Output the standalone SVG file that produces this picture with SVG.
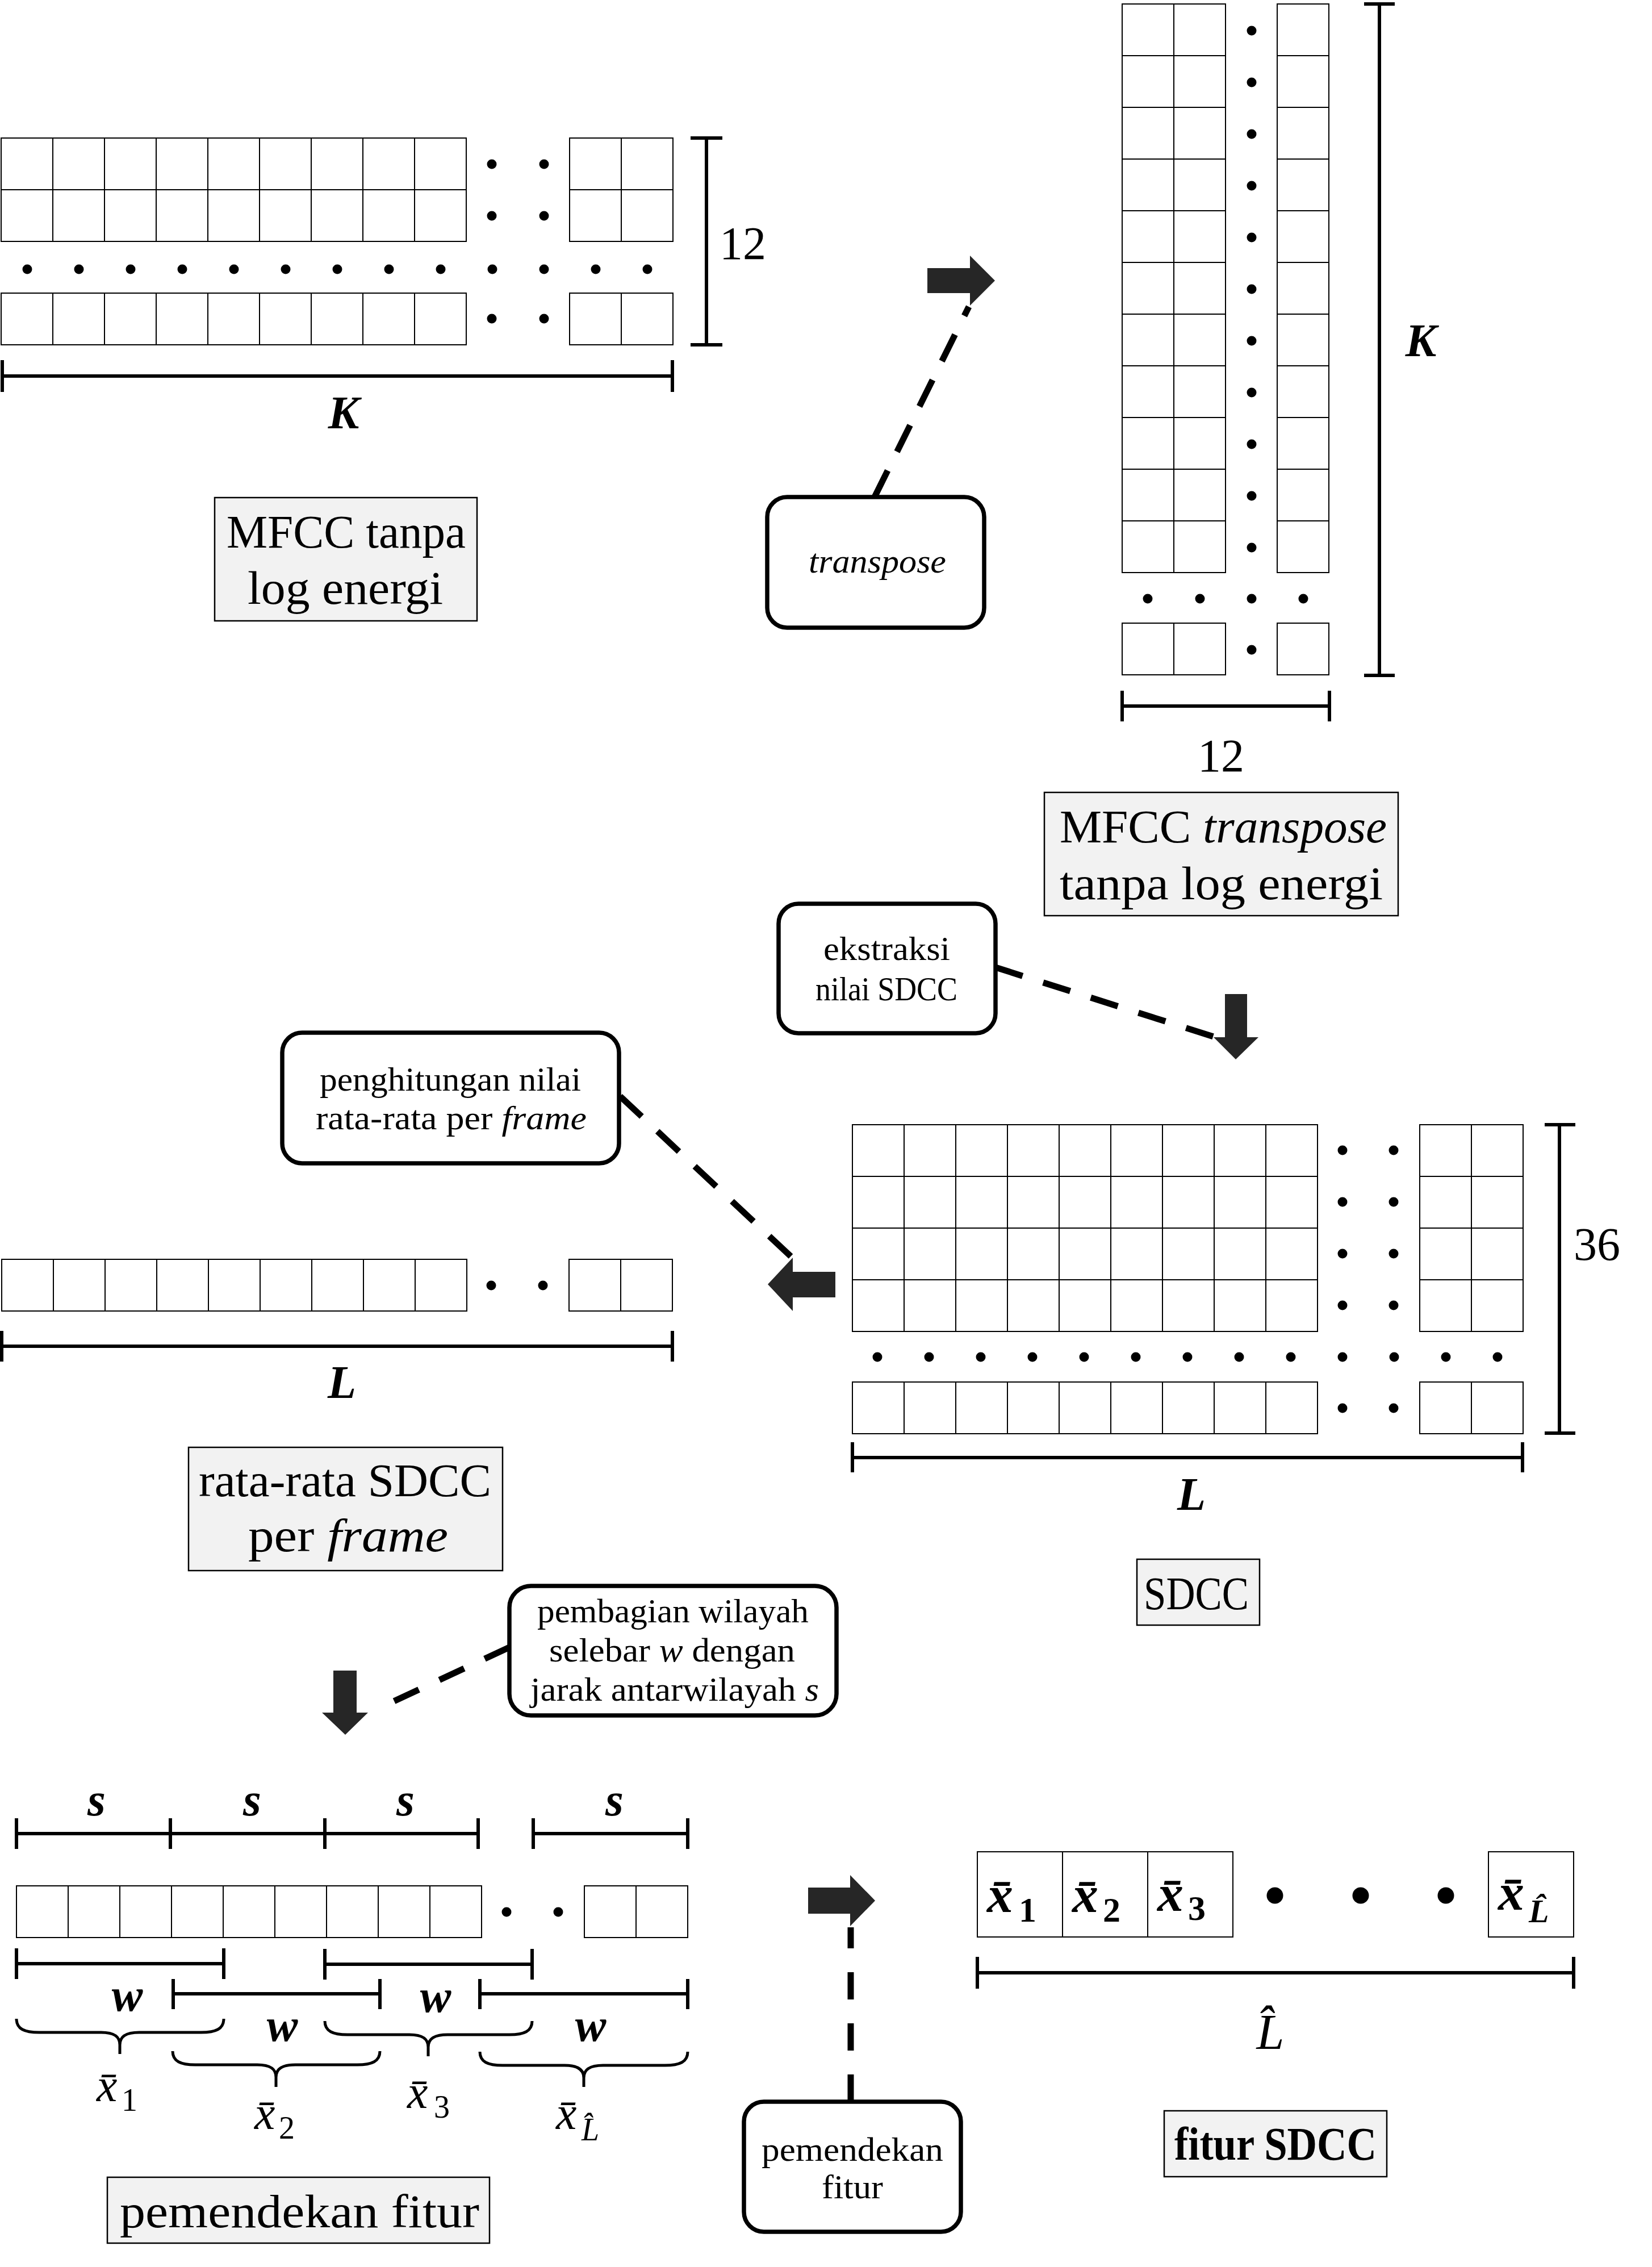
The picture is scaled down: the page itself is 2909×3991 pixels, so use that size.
<svg xmlns="http://www.w3.org/2000/svg" width="2909" height="3991" viewBox="0 0 2909 3991">
<style>
text{font-family:'Liberation Serif',serif;fill:#000}
.big{font-size:82px}
.sm{font-size:60px}
.m{font-size:82px;font-weight:bold;font-style:italic}
.it{font-style:italic}
.cell{fill:#fff;stroke:#000;stroke-width:2}
.br{stroke:#000;stroke-width:6;fill:none}
.brace{stroke:#000;stroke-width:5;fill:none}
.lbl{fill:#f2f2f2;stroke:#000;stroke-width:2.5}
.call{fill:#fff;stroke:#000;stroke-width:7.5}
.dash{stroke:#000;stroke-width:11;fill:none}
.arr{fill:#262626}
.dot{fill:#000}
</style>
<defs>
<path id="r9" class="cell" d="M0 0H819V91H0Z M91 0V91 M182 0V91 M273 0V91 M364 0V91 M455 0V91 M546 0V91 M637 0V91 M728 0V91"/>
<path id="r2" class="cell" d="M0 0H182V91H0Z M91 0V91"/>
<path id="r1" class="cell" d="M0 0H91V91H0Z"/>
</defs>
<rect width="2909" height="3991" fill="#fff"/>

<g id="mfcc-matrix">
<use href="#r9" x="2" y="243"/><use href="#r9" x="2" y="334"/><use href="#r9" x="2" y="516"/>
<use href="#r2" x="1003" y="243"/><use href="#r2" x="1003" y="334"/><use href="#r2" x="1003" y="516"/>
<g class="dot">
<circle cx="866" cy="289" r="8.5"/><circle cx="958" cy="289" r="8.5"/>
<circle cx="866" cy="380" r="8.5"/><circle cx="958" cy="380" r="8.5"/>
<circle cx="866" cy="561" r="8.5"/><circle cx="958" cy="561" r="8.5"/>
<circle cx="48" cy="474" r="8.5"/><circle cx="139" cy="474" r="8.5"/><circle cx="230" cy="474" r="8.5"/><circle cx="321" cy="474" r="8.5"/><circle cx="412" cy="474" r="8.5"/><circle cx="503" cy="474" r="8.5"/><circle cx="594" cy="474" r="8.5"/><circle cx="685" cy="474" r="8.5"/><circle cx="776" cy="474" r="8.5"/><circle cx="867" cy="474" r="8.5"/><circle cx="958" cy="474" r="8.5"/><circle cx="1049" cy="474" r="8.5"/><circle cx="1140" cy="474" r="8.5"/>
</g>
<path class="br" d="M1244 243V607 M1216 243H1272 M1216 607H1272"/>
<text class="big" x="1267" y="456">12</text>
<path class="br" d="M4 662H1184 M4 634V690 M1184 634V690"/>
<text class="m" x="605" y="754" text-anchor="middle">K</text>
</g>

<g id="label-mfcc">
<rect class="lbl" x="378" y="876" width="462" height="217"/>
<text class="big" x="399" y="964" textLength="421" lengthAdjust="spacingAndGlyphs">MFCC tanpa</text>
<text class="big" x="436" y="1063" textLength="344" lengthAdjust="spacingAndGlyphs">log energi</text>
</g>

<g id="mfcc-transpose-matrix">
<use href="#r2" x="1976" y="7"/><use href="#r2" x="1976" y="98"/><use href="#r2" x="1976" y="189"/><use href="#r2" x="1976" y="280"/><use href="#r2" x="1976" y="371"/><use href="#r2" x="1976" y="462"/><use href="#r2" x="1976" y="553"/><use href="#r2" x="1976" y="644"/><use href="#r2" x="1976" y="735"/><use href="#r2" x="1976" y="826"/><use href="#r2" x="1976" y="917"/><use href="#r2" x="1976" y="1097"/>
<use href="#r1" x="2249" y="7"/><use href="#r1" x="2249" y="98"/><use href="#r1" x="2249" y="189"/><use href="#r1" x="2249" y="280"/><use href="#r1" x="2249" y="371"/><use href="#r1" x="2249" y="462"/><use href="#r1" x="2249" y="553"/><use href="#r1" x="2249" y="644"/><use href="#r1" x="2249" y="735"/><use href="#r1" x="2249" y="826"/><use href="#r1" x="2249" y="917"/><use href="#r1" x="2249" y="1097"/>
<g class="dot">
<circle cx="2204" cy="54" r="8.5"/><circle cx="2204" cy="145" r="8.5"/><circle cx="2204" cy="236" r="8.5"/><circle cx="2204" cy="327" r="8.5"/><circle cx="2204" cy="418" r="8.5"/><circle cx="2204" cy="509" r="8.5"/><circle cx="2204" cy="600" r="8.5"/><circle cx="2204" cy="691" r="8.5"/><circle cx="2204" cy="782" r="8.5"/><circle cx="2204" cy="873" r="8.5"/><circle cx="2204" cy="964" r="8.5"/><circle cx="2204" cy="1144" r="8.5"/>
<circle cx="2021" cy="1054" r="8.5"/><circle cx="2113" cy="1054" r="8.5"/><circle cx="2204" cy="1054" r="8.5"/><circle cx="2295" cy="1054" r="8.5"/>
</g>
<path class="br" d="M2429 7V1189 M2402 7H2456 M2402 1189H2456"/>
<text class="m" x="2502" y="627" text-anchor="middle">K</text>
<path class="br" d="M1976 1243H2341 M1976 1216V1270 M2341 1216V1270"/>
<text class="big" x="2150" y="1358" text-anchor="middle">12</text>
</g>

<g id="label-mfcc-transpose">
<rect class="lbl" x="1839" y="1395" width="623" height="217"/>
<text class="big" x="1866" y="1483" textLength="576" lengthAdjust="spacingAndGlyphs">MFCC <tspan class="it">transpose</tspan></text>
<text class="big" x="1866" y="1583" textLength="569" lengthAdjust="spacingAndGlyphs">tanpa log energi</text>
</g>

<g id="callout-transpose">
<rect class="call" x="1351" y="875" width="382" height="230" rx="35"/>
<text class="sm it" x="1424" y="1008" textLength="242" lengthAdjust="spacingAndGlyphs">transpose</text>
</g>

<g id="callout-ekstraksi">
<rect class="call" x="1371" y="1591" width="382" height="228" rx="35"/>
<text class="sm" x="1450" y="1690" textLength="223" lengthAdjust="spacingAndGlyphs">ekstraksi</text>
<text class="sm" x="1436" y="1761" textLength="250" lengthAdjust="spacingAndGlyphs">nilai SDCC</text>
</g>

<g id="sdcc-matrix">
<use href="#r9" x="1501" y="1980"/><use href="#r9" x="1501" y="2071"/><use href="#r9" x="1501" y="2162"/><use href="#r9" x="1501" y="2253"/><use href="#r9" x="1501" y="2433"/>
<use href="#r2" x="2500" y="1980"/><use href="#r2" x="2500" y="2071"/><use href="#r2" x="2500" y="2162"/><use href="#r2" x="2500" y="2253"/><use href="#r2" x="2500" y="2433"/>
<g class="dot">
<circle cx="2364" cy="2025" r="8.5"/><circle cx="2454" cy="2025" r="8.5"/>
<circle cx="2364" cy="2116" r="8.5"/><circle cx="2454" cy="2116" r="8.5"/>
<circle cx="2364" cy="2207" r="8.5"/><circle cx="2454" cy="2207" r="8.5"/>
<circle cx="2364" cy="2298" r="8.5"/><circle cx="2454" cy="2298" r="8.5"/>
<circle cx="2364" cy="2479" r="8.5"/><circle cx="2454" cy="2479" r="8.5"/>
<circle cx="1545" cy="2389" r="8.5"/><circle cx="1636" cy="2389" r="8.5"/><circle cx="1727" cy="2389" r="8.5"/><circle cx="1818" cy="2389" r="8.5"/><circle cx="1909" cy="2389" r="8.5"/><circle cx="2000" cy="2389" r="8.5"/><circle cx="2091" cy="2389" r="8.5"/><circle cx="2182" cy="2389" r="8.5"/><circle cx="2273" cy="2389" r="8.5"/><circle cx="2364" cy="2389" r="8.5"/><circle cx="2455" cy="2389" r="8.5"/><circle cx="2546" cy="2389" r="8.5"/><circle cx="2637" cy="2389" r="8.5"/>
</g>
<path class="br" d="M2746 1980V2523 M2720 1980H2774 M2720 2523H2774"/>
<text class="big" x="2771" y="2218">36</text>
<path class="br" d="M1501 2566H2681 M1501 2539V2592 M2681 2539V2592"/>
<text class="m" x="2098" y="2658" text-anchor="middle">L</text>
</g>

<g id="label-sdcc">
<rect class="lbl" x="2002" y="2745" width="216" height="116"/>
<text class="big" x="2014" y="2833" textLength="185" lengthAdjust="spacingAndGlyphs">SDCC</text>
</g>

<g id="callout-penghitungan">
<rect class="call" x="497" y="1818" width="593" height="230" rx="35"/>
<text class="sm" x="563" y="1920" textLength="460" lengthAdjust="spacingAndGlyphs">penghitungan nilai</text>
<text class="sm" x="556" y="1988" textLength="477" lengthAdjust="spacingAndGlyphs">rata-rata per <tspan class="it">frame</tspan></text>
</g>

<g id="mean-row">
<use href="#r9" x="3" y="2217"/><use href="#r2" x="1002" y="2217"/>
<circle class="dot" cx="865" cy="2263" r="8.5"/><circle class="dot" cx="956" cy="2263" r="8.5"/>
<path class="br" d="M3 2370H1184 M3 2343V2397 M1184 2343V2397"/>
<text class="m" x="602" y="2461" text-anchor="middle">L</text>
</g>

<g id="label-rata-rata">
<rect class="lbl" x="332" y="2548" width="553" height="217"/>
<text class="big" x="350" y="2634" textLength="515" lengthAdjust="spacingAndGlyphs">rata-rata SDCC</text>
<text class="big" x="437" y="2731" textLength="352" lengthAdjust="spacingAndGlyphs">per <tspan class="it">frame</tspan></text>
</g>

<g id="callout-pembagian">
<rect class="call" x="897" y="2792" width="576" height="228" rx="38"/>
<text class="sm" x="946" y="2856" textLength="478" lengthAdjust="spacingAndGlyphs">pembagian wilayah</text>
<text class="sm" x="967" y="2925" textLength="433" lengthAdjust="spacingAndGlyphs">selebar <tspan class="it">w</tspan> dengan</text>
<text class="sm" x="934" y="2994" textLength="508" lengthAdjust="spacingAndGlyphs">jarak antarwilayah <tspan class="it">s</tspan></text>
</g>

<g id="windowing">
<path class="br" d="M29 3228H842 M939 3228H1211 M29 3201V3255 M300 3201V3255 M572 3201V3255 M842 3201V3255 M939 3201V3255 M1211 3201V3255"/>
<text class="m" x="170" y="3196" text-anchor="middle">s</text>
<text class="m" x="444" y="3196" text-anchor="middle">s</text>
<text class="m" x="714" y="3196" text-anchor="middle">s</text>
<text class="m" x="1082" y="3196" text-anchor="middle">s</text>
<use href="#r9" x="29" y="3320"/><use href="#r2" x="1029" y="3320"/>
<circle class="dot" cx="892" cy="3366" r="8.5"/><circle class="dot" cx="983" cy="3366" r="8.5"/>
<path class="br" d="M29 3457H394 M29 3430V3484 M394 3430V3484"/>
<path class="br" d="M572 3458H937 M572 3431V3485 M937 3431V3485"/>
<path class="br" d="M305 3510H669 M305 3484V3537 M669 3484V3537"/>
<path class="br" d="M845 3510H1211 M845 3484V3537 M1211 3484V3537"/>
<text class="m" x="224" y="3540" text-anchor="middle">w</text>
<text class="m" x="497" y="3593" text-anchor="middle">w</text>
<text class="m" x="767" y="3542" text-anchor="middle">w</text>
<text class="m" x="1040" y="3593" text-anchor="middle">w</text>
<path class="brace" d="M29 3554C29 3572 43 3578 69 3578L178 3578C199 3578 211 3584 211 3600L211 3616 M211 3600C211 3584 223 3578 245 3578L354 3578C380 3578 394 3572 394 3554"/>
<path class="brace" d="M304 3611C304 3629 318 3635 344 3635L453 3635C474 3635 486 3641 486 3657L486 3674 M486 3657C486 3641 498 3635 520 3635L629 3635C655 3635 669 3629 669 3611"/>
<path class="brace" d="M572 3558C572 3576 586 3582 612 3582L721 3582C742 3582 754 3588 754 3604L754 3620 M754 3604C754 3588 766 3582 788 3582L897 3582C923 3582 937 3576 937 3558"/>
<path class="brace" d="M845 3612C845 3630 859 3636 885 3636L994 3636C1015 3636 1028 3642 1028 3658L1028 3674 M1028 3658C1028 3642 1040 3636 1062 3636L1171 3636C1197 3636 1211 3630 1211 3612"/>
<text style="font-size:82px;font-style:italic"><tspan x="170" y="3699">x&#x304;</tspan><tspan x="214" y="3716" style="font-size:56px;font-style:normal">1</tspan></text>
<text style="font-size:82px;font-style:italic"><tspan x="448" y="3748">x&#x304;</tspan><tspan x="491" y="3765" style="font-size:56px;font-style:normal">2</tspan></text>
<text style="font-size:82px;font-style:italic"><tspan x="717" y="3711">x&#x304;</tspan><tspan x="764" y="3728" style="font-size:56px;font-style:normal">3</tspan></text>
<text style="font-size:82px;font-style:italic"><tspan x="979" y="3748">x&#x304;</tspan><tspan x="1024" y="3768" style="font-size:56px">L&#x302;</tspan></text>
</g>

<g id="label-pemendekan">
<rect class="lbl" x="189" y="3833" width="673" height="116"/>
<text class="big" x="211" y="3921" textLength="633" lengthAdjust="spacingAndGlyphs">pemendekan fitur</text>
</g>

<g id="callout-pemendekan">
<rect class="call" x="1310" y="3700" width="382" height="229" rx="35"/>
<text class="sm" x="1341" y="3804" textLength="320" lengthAdjust="spacingAndGlyphs">pemendekan</text>
<text class="sm" x="1447" y="3870" textLength="108" lengthAdjust="spacingAndGlyphs">fitur</text>
</g>

<g id="feature-row">
<rect class="cell" x="1721" y="3260" width="150" height="150"/>
<rect class="cell" x="1871" y="3260" width="150" height="150"/>
<rect class="cell" x="2021" y="3260" width="150" height="150"/>
<rect class="cell" x="2621" y="3260" width="150" height="150"/>
<text style="font-size:92px;font-weight:bold;font-style:italic"><tspan x="1738" y="3366">x&#x304;</tspan><tspan x="1794" y="3383" style="font-size:62px;font-style:normal">1</tspan></text>
<text style="font-size:92px;font-weight:bold;font-style:italic"><tspan x="1888" y="3366">x&#x304;</tspan><tspan x="1942" y="3383" style="font-size:62px;font-style:normal">2</tspan></text>
<text style="font-size:92px;font-weight:bold;font-style:italic"><tspan x="2038" y="3364">x&#x304;</tspan><tspan x="2092" y="3380" style="font-size:62px;font-style:normal">3</tspan></text>
<text style="font-size:92px;font-weight:bold;font-style:italic"><tspan x="2638" y="3362">x&#x304;</tspan><tspan x="2692" y="3384" style="font-size:58px">L&#x302;</tspan></text>
<circle class="dot" cx="2245" cy="3337" r="14.5"/><circle class="dot" cx="2396" cy="3337" r="14.5"/><circle class="dot" cx="2546" cy="3337" r="14.5"/>
<path class="br" d="M1721 3473H2771 M1721 3445V3501 M2771 3445V3501"/>
<text style="font-size:88px;font-style:italic" x="2237" y="3607" text-anchor="middle">L&#x302;</text>
</g>

<g id="label-fitur-sdcc">
<rect class="lbl" x="2050" y="3716" width="392" height="116"/>
<text class="big" style="font-weight:bold" x="2068" y="3802" textLength="356" lengthAdjust="spacingAndGlyphs">fitur SDCC</text>
</g>

<g id="connectors">
<path class="dash" d="M1540 875L1706 540" stroke-dasharray="52 37"/>
<path class="dash" d="M1753 1703L2140 1826" stroke-dasharray="50 38"/>
<path class="dash" d="M1092 1930L1398 2217" stroke-dasharray="52 38"/>
<path class="dash" d="M897 2900L683 3000" stroke-dasharray="48 40"/>
<path class="dash" d="M1498 3700V3393" stroke-dasharray="48 42"/>
<polygon class="arr" points="1633,472 1708,472 1708,450 1752,494 1708,538 1708,516 1633,516"/>
<polygon class="arr" points="2157,1750 2196,1750 2196,1826 2216,1826 2176,1865 2137,1826 2157,1826"/>
<polygon class="arr" points="1471,2239 1396,2239 1396,2214 1352,2261 1396,2308 1396,2284 1471,2284"/>
<polygon class="arr" points="587,2941 628,2941 628,3015 648,3015 608,3054 567,3015 587,3015"/>
<polygon class="arr" points="1423,3323 1497,3323 1497,3301 1541,3346 1497,3391 1497,3369 1423,3369"/>
</g>
</svg>
